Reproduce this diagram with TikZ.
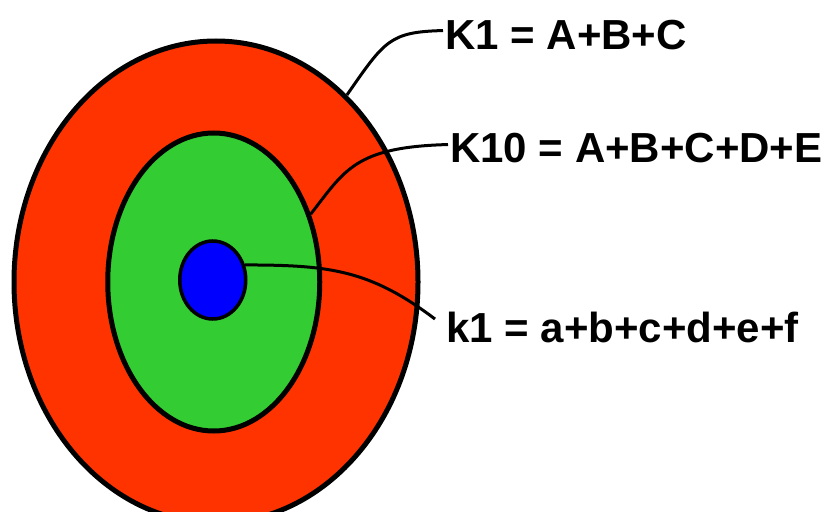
\documentclass[tikz,border=0pt]{standalone}
\usepackage{fontspec}
\setmainfont{Liberation Sans}
\usetikzlibrary{shapes.geometric}
\definecolor{ringred}{RGB}{255,51,0}
\definecolor{ringgreen}{RGB}{51,204,51}
\definecolor{ringblue}{RGB}{0,0,255}
\tikzset{
    ring/.style={ellipse,draw=black,line width=5pt,inner sep=0pt},
    lbl/.style={font=\fontsize{42}{50}\selectfont\bfseries,inner sep=2pt,anchor=base west},
    lead/.style={line width=3pt}
}
\begin{document}
\begin{tikzpicture}[x=1pt,y=-1pt]
            \useasboundingbox (0,0) rectangle (832,511);
            \begin{scope}
                \node[ring,fill=ringred,minimum width=404pt,minimum height=482pt] (outer) at (216,282) {};
                \node[ring,fill=ringgreen,minimum width=212pt,minimum height=298pt] (mid) at (213.75,282) {};
                \node[ring,fill=ringblue,line width=3.5pt,minimum width=66pt,minimum height=78pt] (core) at (212.75,280) {};
            \end{scope}
            
            \begin{scope}
                \node[lbl] (lblA) at (443,49) {K1 = A+B+C};
                \node[lbl] (lblB) at (448,162) {K10 = A+B+C+D+E};
                \node[lbl] (lblC) at (444,342) {k1 = a+b+c+d+e+f};
                \coordinate (endC) at (435,319);
                \draw[lead]
                (outer.55) .. controls (385,40) and (390,32) .. ([yshift=4pt]lblA.west)
                (mid.35) .. controls (345,170) and (355,147) .. ([yshift=3pt]lblB.west)
                (core.25) .. controls (330,265) and (370,270) .. (endC)
                ;
            \end{scope}
        \end{tikzpicture}
\end{document}
